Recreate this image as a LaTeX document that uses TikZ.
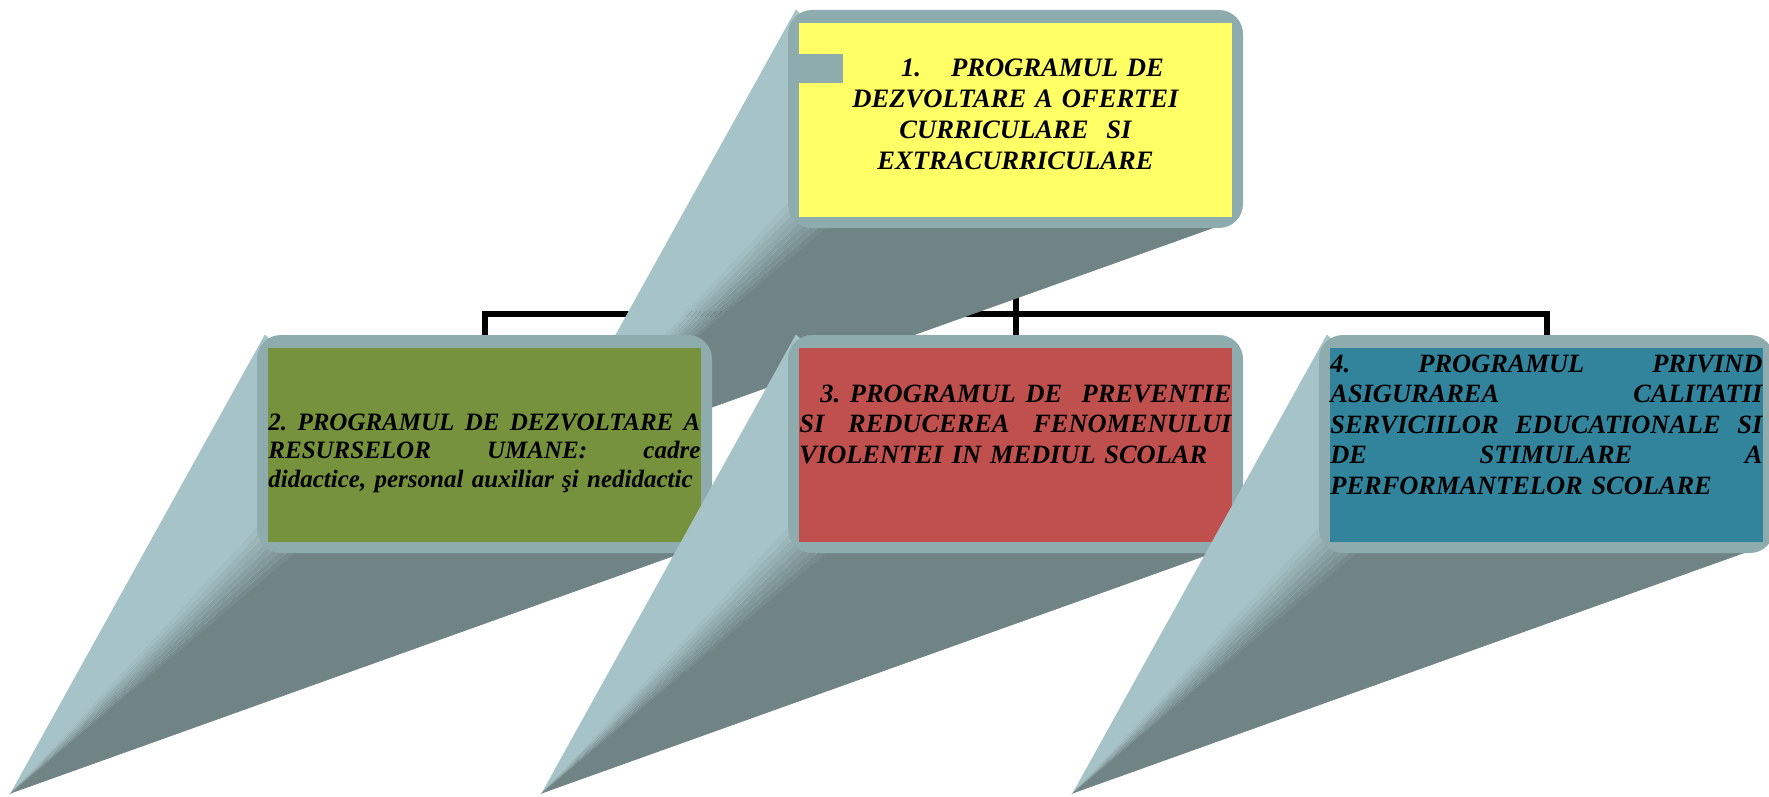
\documentclass[tikz,border=0pt]{standalone}
\usepackage{fontspec}
\setmainfont{Liberation Serif}
\usetikzlibrary{calc}

\definecolor{frameC}{HTML}{8EABAE}
\definecolor{lightC}{HTML}{A6C4C8}
\definecolor{darkC}{HTML}{708486}
\definecolor{yellowC}{HTML}{FFFF66}
\definecolor{greenC}{HTML}{76923C}
\definecolor{redC}{HTML}{C0504D}
\definecolor{tealC}{HTML}{31849B}

\pgfdeclarelayer{bg}
\pgfsetlayers{bg,main}

% depth of a box, drawn from its top left corner
\newcommand{\prism}{%
	\path[lightface] (-246,458) -- (8,0) -- (40,30) -- (40,190) -- (2,190) -- cycle;
	\path[darkface] (-246,458) -- (40,216) -- (40,190) -- (430,190) -- (430,216) -- cycle;
	\path[fill=lightC!89!darkC] (-246,458) -- (2,190) -- (6.75,193.25) -- cycle;
	\path[fill=lightC!78!darkC] (-246,458) -- (6.75,193.25) -- (11.5,196.5) -- cycle;
	\path[fill=lightC!67!darkC] (-246,458) -- (11.5,196.5) -- (16.25,199.75) -- cycle;
	\path[fill=lightC!56!darkC] (-246,458) -- (16.25,199.75) -- (21,203) -- cycle;
	\path[fill=lightC!44!darkC] (-246,458) -- (21,203) -- (25.75,206.25) -- cycle;
	\path[fill=lightC!33!darkC] (-246,458) -- (25.75,206.25) -- (30.5,209.5) -- cycle;
	\path[fill=lightC!22!darkC] (-246,458) -- (30.5,209.5) -- (35.25,212.75) -- cycle;
	\path[fill=lightC!11!darkC] (-246,458) -- (35.25,212.75) -- (40,216) -- cycle;
}
% a justified line of a box
\newcommand{\jline}[1]{\makebox[216pt][s]{\spaceskip=.25em plus 1fil\xspaceskip=.25em plus 1fil #1}}

\begin{document}
\begin{tikzpicture}[x=0.5pt,y=-0.5pt,
	frame/.style={fill=frameC, rounded corners=12pt, minimum width=227.5pt, minimum height=109pt, inner sep=0pt, outer sep=0pt, anchor=north west},
	txt/.style={inner sep=0pt, text width=216pt, anchor=base west, align=left, font=\fontsize{13.2pt}{15.25pt}\selectfont\bfseries\itshape},
	lightface/.style={fill=lightC, draw=lightC, line width=0.3pt},
	darkface/.style={fill=darkC, draw=darkC, line width=0.3pt},
	bus/.style={line width=3pt, black}]
	\useasboundingbox (0,0) rectangle (1769,797);
	\clip (0,0) rectangle (1769,797);

	% 1
	\begin{scope}[shift={(788,10)}] \prism \end{scope}
	\node[frame] (p1) at (788,10) {};
	\fill[yellowC] ($(p1.north west)+(11,13)$) rectangle ($(p1.south east)+(-11,-11)$);
	\fill[frameC] (799,54) rectangle (843,83);
	\node[txt, anchor=base, align=center, font=\fontsize{13.3pt}{15.5pt}\selectfont\bfseries\itshape] (t1) at (1015.5,77)
		{\hspace*{17pt}1.\hspace{15pt}PROGRAMUL DE\\DEZVOLTARE A OFERTEI\\CURRICULARE\ \ SI\\EXTRACURRICULARE};

	% 2
	\begin{scope}[shift={(257,335)}] \prism \end{scope}
	\node[frame] (p2) at (257,335) {};
	\fill[greenC] ($(p2.north west)+(11,13)$) rectangle ($(p2.south east)+(-11,-11)$);
	\node[txt, font=\fontsize{12.5pt}{14.25pt}\selectfont\bfseries\itshape] (t2) at (268,430)
		{\jline{2. PROGRAMUL DE DEZVOLTARE A}\\\jline{RESURSELOR UMANE: cadre}\\didactice, personal auxiliar şi nedidactic};

	% 3
	\begin{scope}[shift={(788,335)}] \prism \end{scope}
	\node[frame] (p3) at (788,335) {};
	\fill[redC] ($(p3.north west)+(11,13)$) rectangle ($(p3.south east)+(-11,-11)$);
	\node[txt] (t3) at (799,402)
		{\jline{\hspace*{10.5pt}3. PROGRAMUL DE\ \ PREVENTIE}\\\jline{SI\ \ REDUCEREA\ \ FENOMENULUI}\\VIOLENTEI IN MEDIUL SCOLAR};

	% 4
	\begin{scope}[shift={(1319,335)}] \prism \end{scope}
	\node[frame] (p4) at (1319,335) {};
	\fill[tealC] ($(p4.north west)+(11,13)$) rectangle ($(p4.south east)+(-11,-11)$);
	\node[txt] (t4) at (1330,372)
		{\jline{4. PROGRAMUL PRIVIND}\\\jline{ASIGURAREA CALITATII}\\\jline{SERVICIILOR EDUCATIONALE SI}\\\jline{DE STIMULARE A}\\PERFORMANTELOR SCOLARE};

	\begin{pgfonlayer}{bg}
		\coordinate (j) at ($(p1.south)+(0,86)$);
		\draw[bus] (p2.north) |- (j) -| (p4.north);
		\draw[bus] (p1.south) -- (p3.north);
	\end{pgfonlayer}
\end{tikzpicture}
\end{document}
